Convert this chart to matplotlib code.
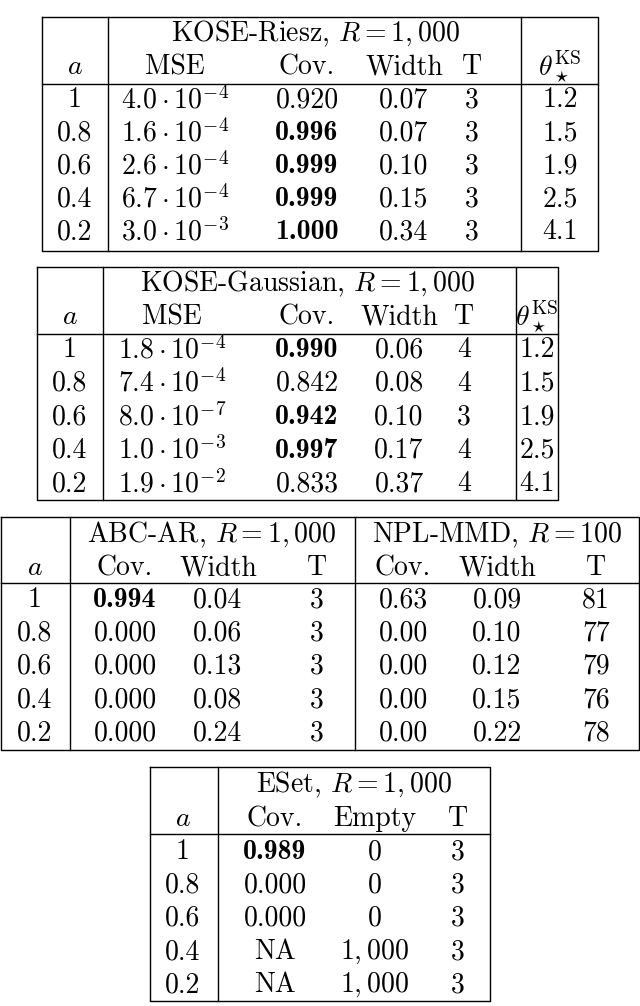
import matplotlib
matplotlib.use("Agg")
import matplotlib.pyplot as plt

plt.rcParams['font.family'] = 'serif'
plt.rcParams['font.serif'] = ['cmr10']
plt.rcParams['mathtext.fontset'] = 'cm'
plt.rcParams['axes.formatter.use_mathtext'] = True

a_vals = ['1', '0.8', '0.6', '0.4', '0.2']
theta = ['1.2', '1.5', '1.9', '2.5', '4.1']

riesz_mse = [r'$4.0\cdot10^{-4}$', r'$1.6\cdot10^{-4}$', r'$2.6\cdot10^{-4}$', r'$6.7\cdot10^{-4}$', r'$3.0\cdot10^{-3}$']
riesz_cov = ['0.920', '0.996', '0.999', '0.999', '1.000']
riesz_cov_bold = [False, True, True, True, True]
riesz_width = ['0.07', '0.07', '0.10', '0.15', '0.34']
riesz_T = ['3', '3', '3', '3', '3']

gauss_mse = [r'$1.8\cdot10^{-4}$', r'$7.4\cdot10^{-4}$', r'$8.0\cdot10^{-7}$', r'$1.0\cdot10^{-3}$', r'$1.9\cdot10^{-2}$']
gauss_cov = ['0.990', '0.842', '0.942', '0.997', '0.833']
gauss_cov_bold = [True, False, True, True, False]
gauss_width = ['0.06', '0.08', '0.10', '0.17', '0.37']
gauss_T = ['4', '4', '3', '4', '4']

abc_cov = ['0.994', '0.000', '0.000', '0.000', '0.000']
abc_cov_bold = [True, False, False, False, False]
abc_width = ['0.04', '0.06', '0.13', '0.08', '0.24']
abc_T = ['3', '3', '3', '3', '3']
npl_cov = ['0.63', '0.00', '0.00', '0.00', '0.00']
npl_width = ['0.09', '0.10', '0.12', '0.15', '0.22']
npl_T = ['81', '77', '79', '76', '78']

eset_cov = ['0.989', '0.000', '0.000', 'NA', 'NA']
eset_cov_bold = [True, False, False, False, False]
eset_empty = ['0', '0', '0', r'$1,000$', r'$1,000$']
eset_T = ['3', '3', '3', '3', '3']

fig = plt.figure(figsize=(6.4, 10.06), dpi=100)
ax = fig.add_axes([0, 0, 1, 1])
ax.set_xlim(0, 640)
ax.set_ylim(1006, 0)
ax.axis('off')

FS = 20
LW = 1.0


def txt(x, y, s, bold=False):
    ax.text(x, y, s, ha='center', va='center', fontsize=FS,
            family='cmb10' if bold else 'cmr10')


def frame(x0, x1, y0, yh, y1, seps):
    ax.plot([x0, x1, x1, x0, x0], [y0, y0, y1, y1, y0], color='black', lw=LW)
    ax.plot([x0, x1], [yh, yh], color='black', lw=LW)
    for s in seps:
        ax.plot([s, s], [y0, y1], color='black', lw=LW)


def rows(y_first, step, xs, cols, bolds=None):
    for i in range(5):
        y = y_first + i * step
        for j, (x, col) in enumerate(zip(xs, cols)):
            b = bolds[j][i] if bolds and bolds[j] else False
            txt(x, y, col[i], b)


theta_lbl = r'$\theta_\star^{\mathrm{KS}}$'

# Table 1
frame(42, 598, 17, 84, 251, [108, 521])
txt(315, 34, r'KOSE-Riesz, $R = 1,000$')
for x, s in zip([75, 175, 307, 404, 472, 560], [r'$a$', 'MSE', 'Cov.', 'Width', 'T', theta_lbl]):
    txt(x, 67, s)
rows(100, 33, [75, 175, 307, 404, 472, 560],
     [a_vals, riesz_mse, riesz_cov, riesz_width, riesz_T, theta],
     [None, None, riesz_cov_bold, None, None, None])

# Table 2
frame(37, 558, 267, 334, 500, [103, 516])
txt(308, 284, r'KOSE-Gaussian, $R = 1,000$')
for x, s in zip([70, 172, 307, 399, 464, 537], [r'$a$', 'MSE', 'Cov.', 'Width', 'T', theta_lbl]):
    txt(x, 317, s)
rows(350, 33.5, [70, 172, 307, 399, 464, 537],
     [a_vals, gauss_mse, gauss_cov, gauss_width, gauss_T, theta],
     [None, None, gauss_cov_bold, None, None, None])

# Table 3
frame(1, 639, 517, 583, 750, [70, 355])
txt(212, 535, r'ABC-AR, $R = 1,000$')
txt(497, 535, r'NPL-MMD, $R = 100$')
xs3 = [35, 125, 218, 317, 403, 497, 596]
for x, s in zip(xs3, [r'$a$', 'Cov.', 'Width', 'T', 'Cov.', 'Width', 'T']):
    txt(x, 568, s)
rows(600, 33.3, xs3,
     [a_vals, abc_cov, abc_width, abc_T, npl_cov, npl_width, npl_T],
     [None, abc_cov_bold, None, None, None, None, None])

# Table 4
frame(150, 490, 767, 834, 1001, [218])
txt(354, 785, r'ESet, $R = 1,000$')
xs4 = [183, 275, 375, 458]
for x, s in zip(xs4, [r'$a$', 'Cov.', 'Empty', 'T']):
    txt(x, 819, s)
rows(852, 33.3, xs4, [a_vals, eset_cov, eset_empty, eset_T],
     [None, eset_cov_bold, None, None])

fig.savefig('out.png', dpi=100)
